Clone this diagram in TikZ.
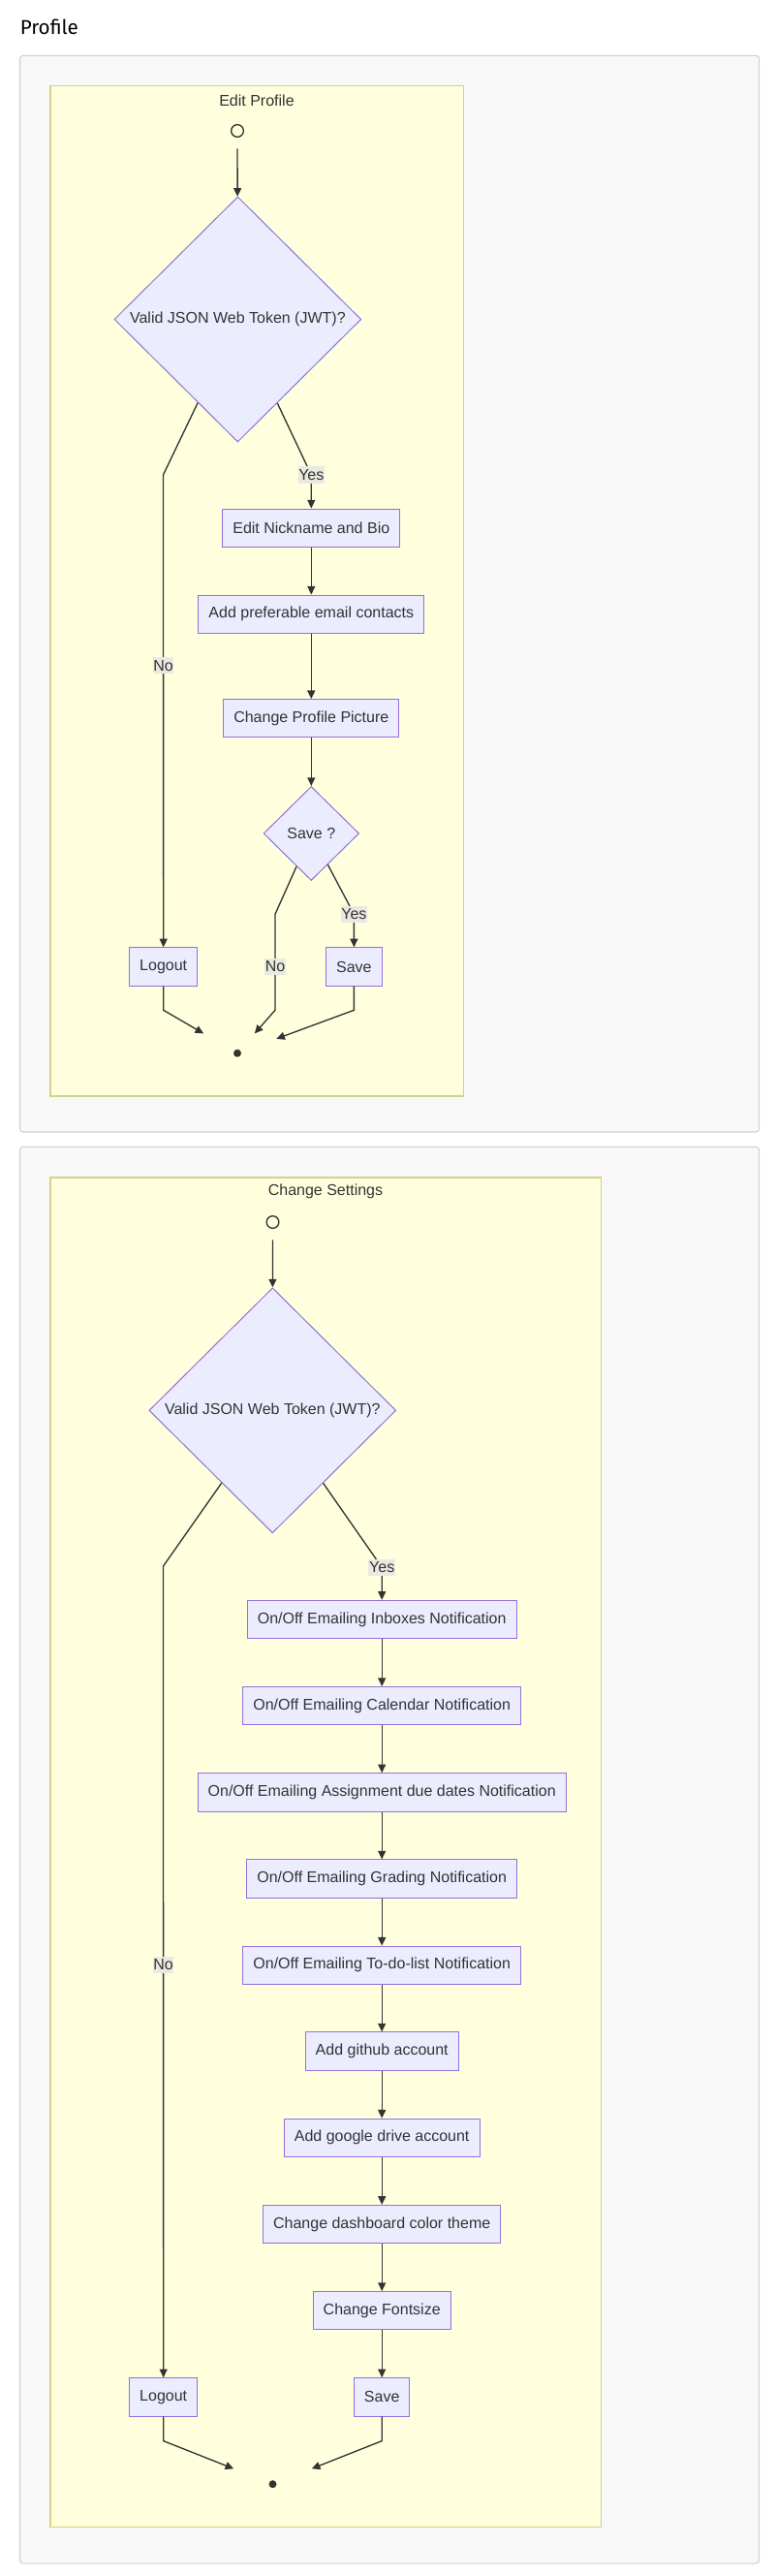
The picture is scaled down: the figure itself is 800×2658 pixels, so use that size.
\documentclass[tikz,border=0pt]{standalone}
\usepackage{fontspec}
\setmainfont{Liberation Sans}
\newfontfamily\titlefont{Fira Sans}
\usetikzlibrary{shapes.geometric,arrows.meta}
\definecolor{nodefill}{HTML}{ECECFF}
\definecolor{nodeline}{HTML}{9370DB}
\definecolor{txt}{HTML}{333333}
\definecolor{clfill}{HTML}{FFFFDE}
\definecolor{clline}{HTML}{D2D28A}
\definecolor{outfill}{HTML}{F8F8F8}
\definecolor{outline}{HTML}{D0D0D0}
\definecolor{lblbg}{HTML}{E9E9E2}
\begin{document}
\begin{tikzpicture}[x=0.75pt,y=-0.75pt,
  font=\fontsize{12pt}{14pt}\selectfont,
  box/.style={draw=nodeline, fill=nodefill, line width=0.75pt, text=txt, inner xsep=7.9pt, inner ysep=0pt, minimum height=29.5pt},
  dec/.style={diamond, aspect=1, draw=nodeline, fill=nodefill, line width=0.75pt, text=txt, inner sep=0pt},
  ghost/.style={inner sep=0pt, minimum width=15pt, minimum height=27pt},
  ghostend/.style={inner sep=0pt, minimum width=60pt, minimum height=#1},
  arr/.style={draw=txt, line width=1pt, -{Triangle[length=6.5pt,width=6pt]}},
  elabel/.style={fill=lblbg, text=txt, inner xsep=0.5pt, inner ysep=0pt, minimum height=13pt},
  startmark/.style={circle, draw=txt, line width=1pt, minimum size=9.5pt, inner sep=0pt},
  endmark/.style={circle, fill=txt, minimum size=6pt, inner sep=0pt},
  cluster/.style={draw=clline, fill=clfill, line width=1.2pt},
  outerbox/.style={draw=outline, fill=outfill, line width=0.8pt, rounded corners=2.5pt},
  cltitle/.style={text=txt, inner sep=0pt}
]
\fill[white] (0,0) rectangle (800,2658);
\useasboundingbox (0,0) rectangle (800,2658);

\node[anchor=base west, font=\titlefont\fontsize{15.5pt}{18pt}\selectfont, inner sep=0pt] (title) at (20.5,36) {Profile};

% ---------- Edit Profile ----------
\draw[outerbox] (20.5,57.3) rectangle (783.6,1168);
\draw[cluster] (51.8,88.7) rectangle (478.5,1131);
\node[cltitle] (cl1) at (265,103.3) {Edit Profile};

\node[startmark] (s1m) at (245,135) {};
\node[ghost] (s1) at (245,135) {};
\node[dec, minimum width=191.1pt, minimum height=189.75pt] (d1) at (245.4,329.5) {Valid JSON Web Token (JWT)?};
\node[box] (nick) at (321.3,544.7) {Edit Nickname and Bio};
\node[box] (email) at (321.3,633.7) {Add preferable email contacts};
\node[box] (pic) at (321.3,741.3) {Change Profile Picture};
\node[dec, minimum width=73.9pt, minimum height=72.75pt] (sv) at (321.3,860) {Save ?};
\node[box] (lo1) at (168.7,997.5) {Logout};
\node[box] (sa1) at (365.4,997.5) {Save};
\node[ghostend=30pt] (e1) at (245,1086.7) {};
\node[endmark] (e1m) at (245,1086.7) {};

\coordinate (y1) at (321.3,490);
\coordinate (n1) at (168.5,490);
\coordinate (ys) at (365.4,943.3);
\coordinate (ns) at (284,943.3);
\coordinate (ns2) at (284,1042.3);
\coordinate (lb1) at (168.7,1042.3);
\coordinate (sb1) at (365.4,1042.3);

\draw[arr] (s1) -- (d1);
\draw[arr] (d1) -- (y1) -- (nick);
\draw[arr] (d1) -- (n1) -- (lo1);
\draw[arr] (nick) -- (email);
\draw[arr] (email) -- (pic);
\draw[arr] (pic) -- (sv);
\draw[arr] (sv) -- (ys) -- (sa1);
\draw[arr] (sv) -- (ns) -- (ns2) -- (e1);
\draw[arr] (lo1) -- (lb1) -- (e1);
\draw[arr] (sa1) -- (sb1) -- (e1);

\node[elabel] (ly1) at (y1) {Yes};
\node[elabel] (ln1) at (168.5,686.7) {No};
\node[elabel] (lys) at (ys) {Yes};
\node[elabel] (lns) at (284,997.3) {No};

% ---------- Change Settings ----------
\draw[outerbox] (20.5,1183.3) rectangle (783.6,2645);
\draw[cluster] (51.8,1215) rectangle (620.5,2607.5);
\node[cltitle] (cl2) at (336,1229.3) {Change Settings};

\node[startmark] (s2m) at (281.5,1261) {};
\node[ghost] (s2) at (281.5,1261) {};
\node[dec, minimum width=191.1pt, minimum height=189.75pt] (d2) at (281.3,1455.3) {Valid JSON Web Token (JWT)?};
\node[box] (inb) at (394.2,1671) {On/Off Emailing Inboxes Notification};
\node[box] (cal) at (394.2,1760.2) {On/Off Emailing Calendar Notification};
\node[box] (asg) at (394.2,1849.4) {On/Off Emailing Assignment due dates Notification};
\node[box] (grd) at (394.2,1938.6) {On/Off Emailing Grading Notification};
\node[box] (tdl) at (394.2,2027.8) {On/Off Emailing To-do-list Notification};
\node[box] (gh) at (394.2,2116.6) {Add github account};
\node[box] (gd) at (394.2,2205.8) {Add google drive account};
\node[box] (dash) at (394.2,2295) {Change dashboard color theme};
\node[box] (fs) at (394.2,2384.2) {Change Fontsize};
\node[box] (lo2) at (168.7,2473.4) {Logout};
\node[box] (sa2) at (394.2,2473.4) {Save};
\node[ghostend=23.5pt] (e2) at (281.5,2563.2) {};
\node[endmark] (e2m) at (281.5,2563.2) {};

\coordinate (y2) at (394.2,1617.3);
\coordinate (n2) at (168.5,1616);
\coordinate (lb2) at (168.7,2518.6);
\coordinate (sb2) at (394.2,2518.6);

\draw[arr] (s2) -- (d2);
\draw[arr] (d2) -- (y2) -- (inb);
\draw[arr] (d2) -- (n2) -- (lo2);
\draw[arr] (inb) -- (cal);
\draw[arr] (cal) -- (asg);
\draw[arr] (asg) -- (grd);
\draw[arr] (grd) -- (tdl);
\draw[arr] (tdl) -- (gh);
\draw[arr] (gh) -- (gd);
\draw[arr] (gd) -- (dash);
\draw[arr] (dash) -- (fs);
\draw[arr] (fs) -- (sa2);
\draw[arr] (lo2) -- (lb2) -- (e2);
\draw[arr] (sa2) -- (sb2) -- (e2);

\node[elabel] (ly2) at (y2) {Yes};
\node[elabel] (ln2) at (168.5,2027.3) {No};
\end{tikzpicture}
\end{document}
